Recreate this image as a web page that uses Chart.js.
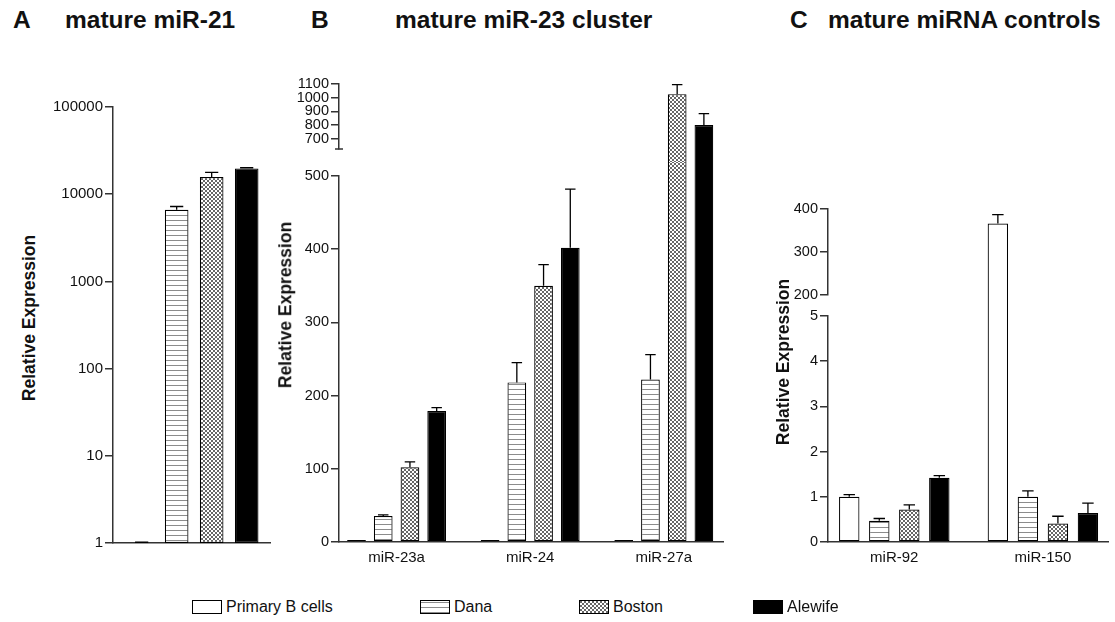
<!DOCTYPE html>
<html>
<head>
<meta charset="utf-8">
<script src="https://cdn.jsdelivr.net/npm/chart.js@4.4.1/dist/chart.umd.min.js"></script>
<style>
  body { margin: 0; width: 1115px; height: 622px; background: #fff; position: relative; overflow: hidden;
         font-family: "Liberation Sans", Arial, sans-serif; color: #111; }
  canvas { position: absolute; }
  .head { position: absolute; top: 8px; font-weight: bold; font-size: 24.5px; line-height: 1; white-space: nowrap; }
  .ytitle { position: absolute; font-weight: bold; font-size: 17.5px; line-height: 1; white-space: nowrap;
            transform: translate(-50%, -50%) rotate(-90deg); }
  .lg-text { position: absolute; top: 598px; font-size: 16px; line-height: 18px; white-space: nowrap; }
</style>
</head>
<body>
<canvas id="chartA"></canvas>
<canvas id="chartBUp"></canvas>
<canvas id="chartBLow"></canvas>
<canvas id="chartCUp"></canvas>
<canvas id="chartCLow"></canvas>

<div class="head" style="left:13px">A</div>
<div class="head" style="left:65px">mature miR-21</div>
<div class="head" style="left:311px">B</div>
<div class="head" style="left:395px">mature miR-23 cluster</div>
<div class="head" style="left:790px">C</div>
<div class="head" style="left:828px">mature miRNA controls</div>

<div class="ytitle" style="left:30px; top:318px">Relative Expression</div>
<div class="ytitle" style="left:286px; top:305px">Relative Expression</div>
<div class="ytitle" style="left:784px; top:362px">Relative Expression</div>

<div id="legend"></div>

<script>
const seriesNames = ['Primary B cells', 'Dana', 'Boston', 'Alewife'];

// A: mature miR-21 (log axis)
const aCategories = ['miR-21'];
const aValues = [[1], [6640], [15700], [19760]];
const aErrors = [[0.02], [590], [2100], [350]];
const aTicks = [1, 10, 100, 1000, 10000, 100000];

// B: mature miR-23 cluster (broken axis)
const bCategories = ['miR-23a', 'miR-24', 'miR-27a'];
const bValues = [[1, 1, 1], [35.5, 218, 222], [102, 350, 1026], [179, 402, 800]];
const bErrors = [[0, 0, 0], [1.5, 27, 34], [7.5, 29, 69], [4.5, 80, 83]];
const bTicksUpper = [700, 800, 900, 1000, 1100];
const bTicksLower = [0, 100, 200, 300, 400, 500];

// C: mature miRNA controls (broken axis)
const cCategories = ['miR-92', 'miR-150'];
const cValues = [[1.0, 366], [0.47, 1.0], [0.72, 0.41], [1.42, 0.64]];
const cErrors = [[0.05, 21], [0.05, 0.13], [0.1, 0.16], [0.05, 0.22]];
const cTicksUpper = [200, 300, 400];
const cTicksLower = [0, 1, 2, 3, 4, 5];

const axisColor = '#333';
Chart.defaults.font.family = '"Liberation Sans", Arial, sans-serif';
Chart.defaults.color = '#111';

// ========== PATTERNS ==========
function makePattern(kind) {
    const c = document.createElement('canvas');
    const g = c.getContext('2d');
    if (kind === 'lines') {
        c.width = 5; c.height = 5;
        g.fillStyle = '#fff'; g.fillRect(0, 0, 5, 5);
        g.fillStyle = '#8c8c8c'; g.fillRect(0, 2, 5, 1);
    } else {
        c.width = 4; c.height = 4;
        g.fillStyle = '#fff'; g.fillRect(0, 0, 4, 4);
        g.fillStyle = '#666';
        for (let i = 0; i < 4; i++) {
            g.fillRect(i, i, 1, 1);
            g.fillRect(3 - i, i, 1, 1);
        }
    }
    return g.createPattern(c, 'repeat');
}
const fills = ['#fff', makePattern('lines'), makePattern('cross'), '#000'];

// ========== PLUGINS ==========
const errorBars = {
    id: 'errorBars',
    afterDatasetsDraw(chart, args, opts) {
        const errs = opts.errors;
        if (!errs) return;
        const {ctx} = chart;
        const y = chart.scales.y;
        ctx.save();
        ctx.strokeStyle = '#000';
        ctx.lineWidth = 1.3;
        chart.data.datasets.forEach((ds, di) => {
            chart.getDatasetMeta(di).data.forEach((bar, i) => {
                const v = ds.data[i].y;
                const e = errs[di][i];
                if (!e || v < y.min || v > y.max) return;
                const y0 = y.getPixelForValue(v);
                const y1 = y.getPixelForValue(v + e);
                const half = bar.width * 0.28;
                ctx.beginPath();
                ctx.moveTo(bar.x, y0);
                ctx.lineTo(bar.x, y1);
                ctx.moveTo(bar.x - half, y1);
                ctx.lineTo(bar.x + half, y1);
                ctx.stroke();
            });
        });
        ctx.restore();
    }
};

const breakMark = {
    id: 'breakMark',
    afterDraw(chart, args, opts) {
        if (!opts.on) return;
        const {ctx, chartArea} = chart;
        ctx.save();
        ctx.strokeStyle = axisColor;
        ctx.lineWidth = 1.5;
        ctx.beginPath();
        ctx.moveTo(chartArea.left - 4, chartArea.bottom);
        ctx.lineTo(chartArea.left + 4, chartArea.bottom);
        ctx.stroke();
        ctx.restore();
    }
};

// ========== LAYOUT HELPER ==========
function placeCanvas(id, area, yWidth, padTop, padBottom, xHeight) {
    const cv = document.getElementById(id);
    const padR = 6;
    cv.width = area.r - area.l + yWidth + padR;
    cv.height = area.b - area.t + padTop + (xHeight || padBottom);
    cv.style.left = (area.l - yWidth) + 'px';
    cv.style.top = (area.t - padTop) + 'px';
    return {top: padTop, right: padR, bottom: xHeight ? 0 : padBottom, left: 0};
}

function barChart(id, o) {
    const pad = placeCanvas(id, o.area, o.yWidth, o.padTop, o.padBottom, o.xHeight);
    return new Chart(document.getElementById(id), {
        type: 'bar',
        data: {
            datasets: o.values.map((vals, s) => ({
                label: seriesNames[s],
                data: vals.map((v, i) => ({x: i, y: v})),
                backgroundColor: fills[s],
                borderColor: '#000',
                borderWidth: 1.2,
                borderSkipped: false,
                minBarLength: o.minBar || 0,
                clip: false,
                categoryPercentage: o.catPct,
                barPercentage: o.barPct
            }))
        },
        options: {
            responsive: false,
            animation: false,
            layout: {padding: pad},
            plugins: {
                legend: {display: false},
                tooltip: {enabled: false},
                errorBars: {errors: o.errors},
                breakMark: {on: !!o.breakMark}
            },
            scales: {
                x: {
                    type: 'linear', min: o.xMin, max: o.xMax, offset: false,
                    display: !!o.xHeight,
                    grid: {display: false, drawTicks: false},
                    border: {display: true, color: axisColor, width: 1.5},
                    afterBuildTicks: s => { s.ticks = o.categories.map((c, i) => ({value: i})); },
                    afterFit: s => { s.height = o.xHeight || 0; },
                    ticks: {
                        display: !!o.xLabels, autoSkip: false, maxRotation: 0, padding: 7,
                        font: {size: 15}, color: '#111',
                        callback: v => o.categories[v]
                    }
                },
                y: {
                    type: o.log ? 'logarithmic' : 'linear', min: o.yMin, max: o.yMax,
                    afterBuildTicks: s => { s.ticks = o.ticks.map(v => ({value: v})); },
                    afterFit: s => { s.width = o.yWidth; },
                    grid: {display: true, drawOnChartArea: false, drawTicks: true, tickLength: 8,
                           color: axisColor, lineWidth: 1.5},
                    border: {display: true, color: axisColor, width: 1.5},
                    ticks: {autoSkip: false, padding: 2, font: {size: o.tickSize, lineHeight: 1},
                            color: '#111', callback: v => String(v)}
                }
            }
        },
        plugins: [errorBars, breakMark]
    });
}

// ========== CHARTS ==========
barChart('chartA', {
    area: {l: 113, r: 270, t: 107, b: 543}, yWidth: 73, padTop: 14, xHeight: 30,
    categories: aCategories, values: aValues, errors: aErrors, ticks: aTicks,
    log: true, yMin: 1, yMax: 100000, xMin: -0.517, xMax: 0.483,
    catPct: 0.892, barPct: 0.674, tickSize: 15
});

barChart('chartBUp', {
    area: {l: 339, r: 723, t: 84, b: 149}, yWidth: 50, padTop: 12, padBottom: 13,
    categories: bCategories, values: bValues, errors: bErrors, ticks: bTicksUpper,
    yMin: 625, yMax: 1100, xMin: -0.431, xMax: 2.443,
    catPct: 0.8, barPct: 0.7, tickSize: 14.5, breakMark: true
});

barChart('chartBLow', {
    area: {l: 339, r: 723, t: 176, b: 542}, yWidth: 50, padTop: 14, xHeight: 30, xLabels: true,
    categories: bCategories, values: bValues, errors: bErrors, ticks: bTicksLower,
    yMin: 0, yMax: 500, xMin: -0.431, xMax: 2.443,
    catPct: 0.8, barPct: 0.7, tickSize: 14.5, minBar: 2
});

barChart('chartCUp', {
    area: {l: 828, r: 1108, t: 209, b: 295}, yWidth: 40, padTop: 12, padBottom: 10,
    categories: cCategories, values: cValues, errors: cErrors, ticks: cTicksUpper,
    yMin: 200, yMax: 400, xMin: -0.446, xMax: 1.438,
    catPct: 0.808, barPct: 0.68, tickSize: 14.5
});

barChart('chartCLow', {
    area: {l: 828, r: 1108, t: 316, b: 542}, yWidth: 40, padTop: 11, xHeight: 30, xLabels: true,
    categories: cCategories, values: cValues, errors: cErrors, ticks: cTicksLower,
    yMin: 0, yMax: 5, xMin: -0.446, xMax: 1.438,
    catPct: 0.808, barPct: 0.68, tickSize: 14.5
});

// ========== LEGEND ==========
const legendX = [192, 420, 579, 753];
const legend = document.getElementById('legend');
seriesNames.forEach((name, s) => {
    const sw = document.createElement('canvas');
    sw.width = 30; sw.height = 14;
    sw.style.left = legendX[s] + 'px';
    sw.style.top = '600px';
    const g = sw.getContext('2d');
    g.fillStyle = fills[s];
    g.fillRect(0, 0, 30, 14);
    g.strokeStyle = '#000';
    g.lineWidth = 1;
    g.strokeRect(0.5, 0.5, 29, 13);
    legend.appendChild(sw);
    const t = document.createElement('div');
    t.className = 'lg-text';
    t.style.left = (legendX[s] + 34) + 'px';
    t.textContent = name;
    legend.appendChild(t);
});
</script>
</body>
</html>
